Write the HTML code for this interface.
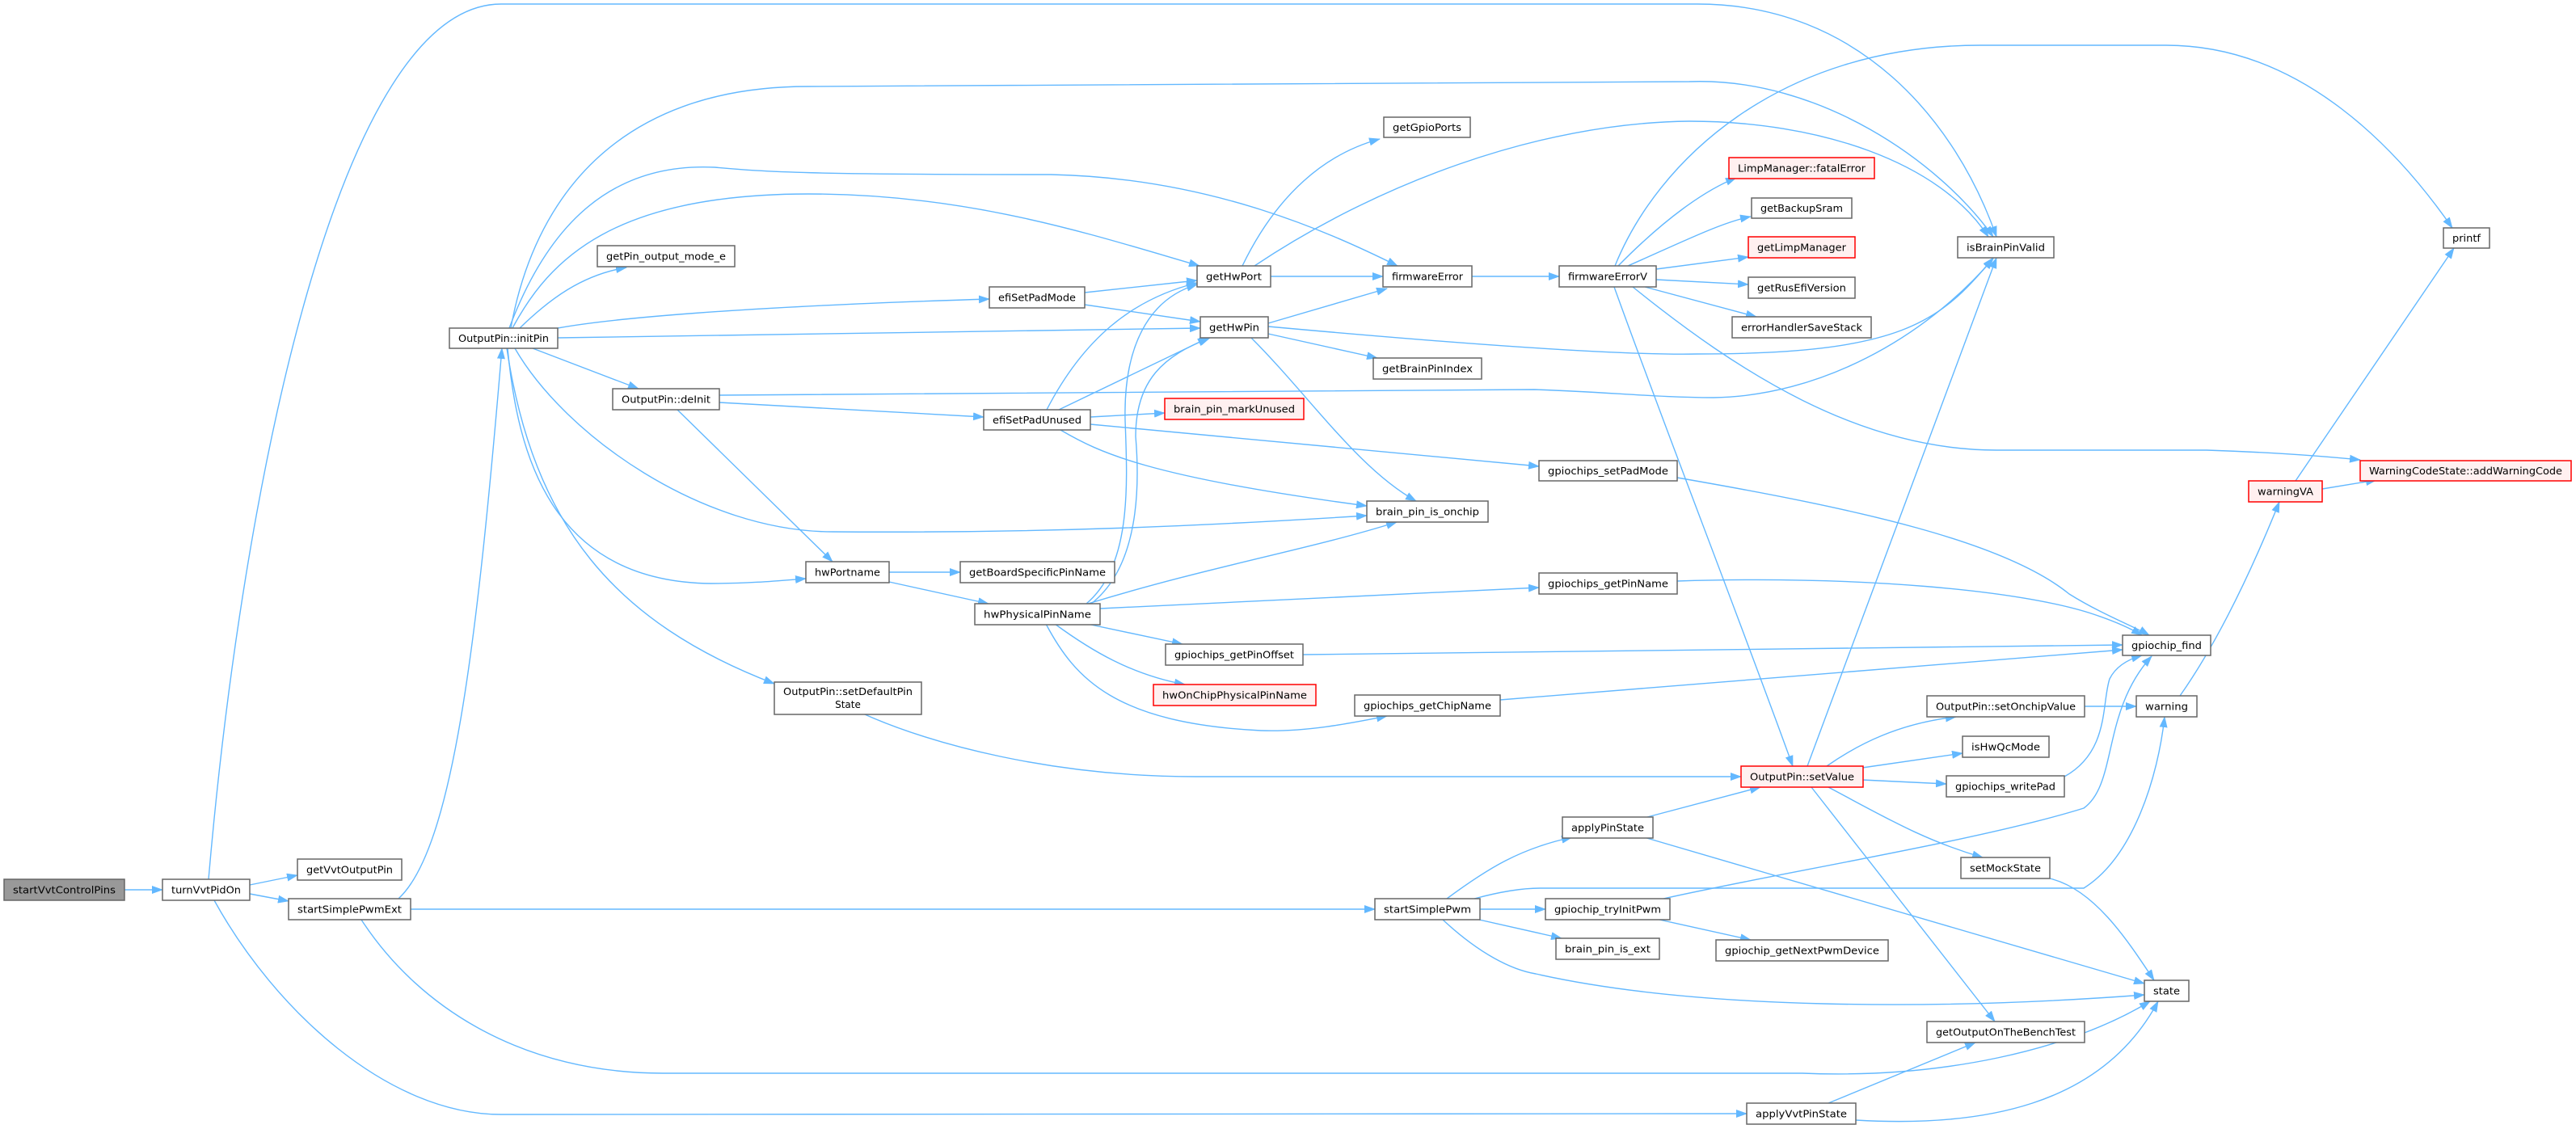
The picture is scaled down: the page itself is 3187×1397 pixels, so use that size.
<!DOCTYPE html>
<html><head><meta charset="utf-8"><style>
html,body{margin:0;padding:0;background:#fff;}
svg{display:block;}
text{font-family:"DejaVu Sans","Liberation Sans",sans-serif;font-size:12px;fill:#000;text-anchor:middle;}
.n rect{fill:#fff;stroke:#666;stroke-width:1.5;}
.r rect{fill:#fff0f0;stroke:#f00;stroke-width:1.5;}
.g rect{fill:#999;stroke:#666;stroke-width:1.5;}
.e path{fill:none;stroke:#63b8ff;stroke-width:1.4;}
</style></head><body>
<svg width="3187" height="1397" viewBox="0 0 3187 1397" xmlns="http://www.w3.org/2000/svg">
<defs><marker id="a" markerUnits="userSpaceOnUse" markerWidth="14" markerHeight="10" refX="13" refY="5" orient="auto"><path d="M0,0 L14,5 L0,10 z" fill="#63b8ff"/></marker></defs>
<g class="e" marker-end="url(#a)">
<path marker-end="url(#a)" d="M154,1101 L201,1101"/>
<path marker-end="url(#a)" d="M309,1095 L368,1083"/>
<path marker-end="url(#a)" d="M309,1106 L357,1115"/>
<path marker-end="url(#a)" d="M258,1088 C300,600 420,5 620,5 L2100,5 C2300,5 2420,150 2470,293"/>
<path marker-end="url(#a)" d="M265,1114 C340,1250 480,1379 620,1379 L2161,1378"/>
<path marker-end="url(#a)" d="M493,1112 C560,1050 590,800 621,431"/>
<path marker-end="url(#a)" d="M508,1125 L1701,1125"/>
<path marker-end="url(#a)" d="M447,1138 C520,1250 650,1328 820,1328 L2230,1328 C2400,1335 2560,1300 2660,1239"/>
<path marker-end="url(#a)" d="M632,406 C660,250 760,107 1000,107 L2090,101 C2250,95 2400,200 2466,293"/>
<path marker-end="url(#a)" d="M630,406 C670,300 740,200 884,207 C950,213 1000,216 1300,216 C1500,220 1650,290 1729,329"/>
<path marker-end="url(#a)" d="M634,406 C680,320 760,240 1000,240 C1200,240 1350,290 1484,329"/>
<path marker-end="url(#a)" d="M643,406 C680,370 720,340 775,331"/>
<path marker-end="url(#a)" d="M690,406 C750,395 900,380 1224,370"/>
<path marker-end="url(#a)" d="M690,418 L1485,406"/>
<path marker-end="url(#a)" d="M659,431 L790,481"/>
<path marker-end="url(#a)" d="M628,431 C640,560 680,720 880,722 C930,722 970,718 997,716"/>
<path marker-end="url(#a)" d="M637,431 C700,540 870,658 1030,658 C1300,660 1500,650 1691,638"/>
<path marker-end="url(#a)" d="M627,431 C660,650 760,770 958,846"/>
<path marker-end="url(#a)" d="M890,489 L1898,482 C1990,485 2050,492 2120,492 C2250,490 2380,420 2466,320"/>
<path marker-end="url(#a)" d="M890,498 L1217,516"/>
<path marker-end="url(#a)" d="M838,507 L1030,695"/>
<path marker-end="url(#a)" d="M1342,362 L1481,347"/>
<path marker-end="url(#a)" d="M1342,377 L1485,398"/>
<path marker-end="url(#a)" d="M1295,507 C1340,420 1400,370 1481,350"/>
<path marker-end="url(#a)" d="M1310,507 L1495,418"/>
<path marker-end="url(#a)" d="M1349,516 L1441,511"/>
<path marker-end="url(#a)" d="M1349,525 L1904,577"/>
<path marker-end="url(#a)" d="M1312,532 C1360,560 1420,590 1691,626"/>
<path marker-end="url(#a)" d="M1344,747 C1400,700 1395,600 1392,520 C1390,430 1420,370 1481,352"/>
<path marker-end="url(#a)" d="M1350,747 C1410,700 1410,600 1405,540 C1405,470 1440,440 1497,418"/>
<path marker-end="url(#a)" d="M1346,747 C1500,700 1620,680 1728,646"/>
<path marker-end="url(#a)" d="M1361,753 L1904,727"/>
<path marker-end="url(#a)" d="M1345,772 L1463,797"/>
<path marker-end="url(#a)" d="M1305,772 C1350,805 1400,835 1466,847"/>
<path marker-end="url(#a)" d="M1294,772 C1330,840 1380,895 1560,904 C1620,906 1680,893 1716,886"/>
<path marker-end="url(#a)" d="M1100,708 L1188,708"/>
<path marker-end="url(#a)" d="M1100,720 L1223,747"/>
<path marker-end="url(#a)" d="M1537,329 C1580,240 1640,190 1707,172"/>
<path marker-end="url(#a)" d="M1552,329 C1700,230 1900,152 2090,150 C2250,150 2400,200 2460,293"/>
<path marker-end="url(#a)" d="M1572,342 L1711,342"/>
<path marker-end="url(#a)" d="M1569,400 L1716,357"/>
<path marker-end="url(#a)" d="M1569,404 C1800,425 2000,440 2100,438 C2350,438 2400,400 2466,319"/>
<path marker-end="url(#a)" d="M1569,413 L1704,443"/>
<path marker-end="url(#a)" d="M1548,418 C1620,490 1680,580 1752,620"/>
<path marker-end="url(#a)" d="M1821,342 L1929,342"/>
<path marker-end="url(#a)" d="M1998,329 C2050,200 2200,56 2450,56 L2680,56 C2850,56 2970,190 3034,282"/>
<path marker-end="url(#a)" d="M2002,329 C2060,270 2110,235 2148,220"/>
<path marker-end="url(#a)" d="M2014,329 C2080,300 2130,275 2166,268"/>
<path marker-end="url(#a)" d="M2049,333 L2163,318"/>
<path marker-end="url(#a)" d="M2049,346 L2163,352"/>
<path marker-end="url(#a)" d="M2035,355 L2173,392"/>
<path marker-end="url(#a)" d="M2020,355 C2150,460 2300,557 2470,557 L2730,557 C2820,560 2880,565 2920,569"/>
<path marker-end="url(#a)" d="M1997,355 C2060,530 2150,760 2218,948"/>
<path marker-end="url(#a)" d="M2236,948 L2470,319"/>
<path marker-end="url(#a)" d="M2260,948 C2300,920 2350,895 2420,887"/>
<path marker-end="url(#a)" d="M2304,950 L2428,932"/>
<path marker-end="url(#a)" d="M2304,965 L2408,970"/>
<path marker-end="url(#a)" d="M2262,974 C2330,1010 2380,1040 2453,1061"/>
<path marker-end="url(#a)" d="M2241,974 L2468,1264"/>
<path marker-end="url(#a)" d="M2579,874 L2643,874"/>
<path marker-end="url(#a)" d="M2554,961 C2610,930 2600,870 2610,840 C2615,830 2625,818 2650,811"/>
<path marker-end="url(#a)" d="M2075,591 C2300,630 2480,670 2560,735 C2600,760 2640,775 2659,786"/>
<path marker-end="url(#a)" d="M2075,719 C2300,712 2500,730 2590,760 C2620,770 2640,780 2650,786"/>
<path marker-end="url(#a)" d="M1612,810 L2626,798"/>
<path marker-end="url(#a)" d="M1856,866 L2626,804"/>
<path marker-end="url(#a)" d="M2058,1112 C2200,1080 2450,1040 2578,1000 C2620,970 2600,880 2662,812"/>
<path marker-end="url(#a)" d="M1824,1112 C1850,1105 1880,1099 1905,1099 L2578,1099 C2640,1060 2670,960 2678,887"/>
<path marker-end="url(#a)" d="M1790,1112 C1840,1075 1880,1050 1945,1036"/>
<path marker-end="url(#a)" d="M1830,1125 L1912,1125"/>
<path marker-end="url(#a)" d="M1830,1138 L1932,1161"/>
<path marker-end="url(#a)" d="M1785,1138 C1830,1180 1870,1200 1900,1205 C2100,1250 2400,1250 2653,1231"/>
<path marker-end="url(#a)" d="M2053,1138 L2166,1163"/>
<path marker-end="url(#a)" d="M2038,1011 L2178,974"/>
<path marker-end="url(#a)" d="M2034,1036 L2653,1217"/>
<path marker-end="url(#a)" d="M2536,1087 C2590,1100 2630,1160 2665,1213"/>
<path marker-end="url(#a)" d="M2262,1365 L2444,1290"/>
<path marker-end="url(#a)" d="M2296,1386 C2450,1395 2600,1370 2670,1239"/>
<path marker-end="url(#a)" d="M1070,884 C1150,920 1300,961 1480,961 L2154,961"/>
<path marker-end="url(#a)" d="M2697,861 C2740,800 2780,720 2820,621"/>
<path marker-end="url(#a)" d="M2840,595 L3036,307"/>
<path marker-end="url(#a)" d="M2873,605 L2940,594"/>
</g>

<g class="g"><rect x="5" y="1088" width="149" height="26"/><text x="79.5" y="1105.5" textLength="127" lengthAdjust="spacingAndGlyphs">startVvtControlPins</text></g>
<g class="n"><rect x="201" y="1088" width="108" height="26"/><text x="255" y="1105.5" textLength="86" lengthAdjust="spacingAndGlyphs">turnVvtPidOn</text></g>
<g class="n"><rect x="368" y="1063" width="129" height="26"/><text x="432.5" y="1080.5" textLength="107" lengthAdjust="spacingAndGlyphs">getVvtOutputPin</text></g>
<g class="n"><rect x="357" y="1112" width="151" height="26"/><text x="432.5" y="1129.5" textLength="129" lengthAdjust="spacingAndGlyphs">startSimplePwmExt</text></g>
<g class="n"><rect x="556" y="406" width="134" height="25"/><text x="623" y="423" textLength="112" lengthAdjust="spacingAndGlyphs">OutputPin::initPin</text></g>
<g class="n"><rect x="739" y="304" width="170" height="26"/><text x="824" y="321.5" textLength="148" lengthAdjust="spacingAndGlyphs">getPin_output_mode_e</text></g>
<g class="n"><rect x="758" y="481" width="132" height="26"/><text x="824" y="498.5" textLength="110" lengthAdjust="spacingAndGlyphs">OutputPin::deInit</text></g>
<g class="n"><rect x="997" y="695" width="103" height="26"/><text x="1048.5" y="712.5" textLength="81" lengthAdjust="spacingAndGlyphs">hwPortname</text></g>
<g class="n"><rect x="958" y="844" width="182" height="40"/><text x="1049" y="860" textLength="160" lengthAdjust="spacingAndGlyphs">OutputPin::setDefaultPin</text><text x="1049" y="876">State</text></g>
<g class="n"><rect x="1712" y="145" width="107" height="25"/><text x="1765.5" y="162" textLength="85" lengthAdjust="spacingAndGlyphs">getGpioPorts</text></g>
<g class="n"><rect x="1481" y="329" width="91" height="26"/><text x="1526.5" y="346.5" textLength="69" lengthAdjust="spacingAndGlyphs">getHwPort</text></g>
<g class="n"><rect x="1711" y="329" width="110" height="26"/><text x="1766" y="346.5" textLength="88" lengthAdjust="spacingAndGlyphs">firmwareError</text></g>
<g class="n"><rect x="1929" y="329" width="120" height="26"/><text x="1989" y="346.5" textLength="98" lengthAdjust="spacingAndGlyphs">firmwareErrorV</text></g>
<g class="n"><rect x="1224" y="355" width="118" height="26"/><text x="1283" y="372.5" textLength="96" lengthAdjust="spacingAndGlyphs">efiSetPadMode</text></g>
<g class="n"><rect x="1485" y="392" width="84" height="26"/><text x="1527" y="409.5" textLength="62" lengthAdjust="spacingAndGlyphs">getHwPin</text></g>
<g class="n"><rect x="1699" y="443" width="134" height="26"/><text x="1766" y="460.5" textLength="112" lengthAdjust="spacingAndGlyphs">getBrainPinIndex</text></g>
<g class="r"><rect x="1441" y="493" width="172" height="26"/><text x="1527" y="510.5" textLength="150" lengthAdjust="spacingAndGlyphs">brain_pin_markUnused</text></g>
<g class="n"><rect x="1217" y="507" width="132" height="25"/><text x="1283" y="524" textLength="110" lengthAdjust="spacingAndGlyphs">efiSetPadUnused</text></g>
<g class="n"><rect x="1904" y="570" width="171" height="25"/><text x="1989.5" y="587" textLength="149" lengthAdjust="spacingAndGlyphs">gpiochips_setPadMode</text></g>
<g class="n"><rect x="1691" y="620" width="150" height="26"/><text x="1766" y="637.5" textLength="128" lengthAdjust="spacingAndGlyphs">brain_pin_is_onchip</text></g>
<g class="n"><rect x="1188" y="695" width="191" height="26"/><text x="1283.5" y="712.5" textLength="169" lengthAdjust="spacingAndGlyphs">getBoardSpecificPinName</text></g>
<g class="n"><rect x="1904" y="709" width="171" height="26"/><text x="1989.5" y="726.5" textLength="149" lengthAdjust="spacingAndGlyphs">gpiochips_getPinName</text></g>
<g class="n"><rect x="1206" y="747" width="155" height="26"/><text x="1283.5" y="764.5" textLength="133" lengthAdjust="spacingAndGlyphs">hwPhysicalPinName</text></g>
<g class="n"><rect x="1442" y="797" width="170" height="26"/><text x="1527" y="814.5" textLength="148" lengthAdjust="spacingAndGlyphs">gpiochips_getPinOffset</text></g>
<g class="r"><rect x="1427" y="847" width="201" height="26"/><text x="1527.5" y="864.5" textLength="179" lengthAdjust="spacingAndGlyphs">hwOnChipPhysicalPinName</text></g>
<g class="n"><rect x="1676" y="860" width="180" height="26"/><text x="1766" y="877.5" textLength="158" lengthAdjust="spacingAndGlyphs">gpiochips_getChipName</text></g>
<g class="n"><rect x="1933" y="1011" width="112" height="26"/><text x="1989" y="1028.5" textLength="90" lengthAdjust="spacingAndGlyphs">applyPinState</text></g>
<g class="n"><rect x="1701" y="1112" width="130" height="26"/><text x="1766" y="1129.5" textLength="108" lengthAdjust="spacingAndGlyphs">startSimplePwm</text></g>
<g class="n"><rect x="1912" y="1112" width="154" height="26"/><text x="1989" y="1129.5" textLength="132" lengthAdjust="spacingAndGlyphs">gpiochip_tryInitPwm</text></g>
<g class="n"><rect x="1925" y="1161" width="128" height="26"/><text x="1989" y="1178.5" textLength="106" lengthAdjust="spacingAndGlyphs">brain_pin_is_ext</text></g>
<g class="r"><rect x="2139" y="195" width="180" height="26"/><text x="2229" y="212.5" textLength="158" lengthAdjust="spacingAndGlyphs">LimpManager::fatalError</text></g>
<g class="n"><rect x="2167" y="245" width="124" height="25"/><text x="2229" y="262" textLength="102" lengthAdjust="spacingAndGlyphs">getBackupSram</text></g>
<g class="r"><rect x="2163" y="293" width="132" height="26"/><text x="2229" y="310.5" textLength="110" lengthAdjust="spacingAndGlyphs">getLimpManager</text></g>
<g class="n"><rect x="2163" y="343" width="132" height="26"/><text x="2229" y="360.5" textLength="110" lengthAdjust="spacingAndGlyphs">getRusEfiVersion</text></g>
<g class="n"><rect x="2143" y="392" width="172" height="26"/><text x="2229" y="409.5" textLength="150" lengthAdjust="spacingAndGlyphs">errorHandlerSaveStack</text></g>
<g class="n"><rect x="2422" y="293" width="119" height="26"/><text x="2481.5" y="310.5" textLength="97" lengthAdjust="spacingAndGlyphs">isBrainPinValid</text></g>
<g class="n"><rect x="3023" y="282" width="57" height="25"/><text x="3051.5" y="299" textLength="35" lengthAdjust="spacingAndGlyphs">printf</text></g>
<g class="r"><rect x="2920" y="570" width="261" height="25"/><text x="3050.5" y="587" textLength="239" lengthAdjust="spacingAndGlyphs">WarningCodeState::addWarningCode</text></g>
<g class="r"><rect x="2782" y="595" width="91" height="26"/><text x="2827.5" y="612.5" textLength="69" lengthAdjust="spacingAndGlyphs">warningVA</text></g>
<g class="n"><rect x="2626" y="786" width="109" height="25"/><text x="2680.5" y="803" textLength="87" lengthAdjust="spacingAndGlyphs">gpiochip_find</text></g>
<g class="n"><rect x="2384" y="861" width="195" height="26"/><text x="2481.5" y="878.5" textLength="173" lengthAdjust="spacingAndGlyphs">OutputPin::setOnchipValue</text></g>
<g class="n"><rect x="2643" y="861" width="75" height="26"/><text x="2680.5" y="878.5" textLength="53" lengthAdjust="spacingAndGlyphs">warning</text></g>
<g class="n"><rect x="2428" y="911" width="107" height="26"/><text x="2481.5" y="928.5" textLength="85" lengthAdjust="spacingAndGlyphs">isHwQcMode</text></g>
<g class="r"><rect x="2154" y="948" width="151" height="26"/><text x="2229.5" y="965.5" textLength="129" lengthAdjust="spacingAndGlyphs">OutputPin::setValue</text></g>
<g class="n"><rect x="2408" y="960" width="146" height="26"/><text x="2481" y="977.5" textLength="124" lengthAdjust="spacingAndGlyphs">gpiochips_writePad</text></g>
<g class="n"><rect x="2426" y="1061" width="110" height="26"/><text x="2481" y="1078.5" textLength="88" lengthAdjust="spacingAndGlyphs">setMockState</text></g>
<g class="n"><rect x="2123" y="1163" width="213" height="26"/><text x="2229.5" y="1180.5" textLength="191" lengthAdjust="spacingAndGlyphs">gpiochip_getNextPwmDevice</text></g>
<g class="n"><rect x="2653" y="1213" width="55" height="26"/><text x="2680.5" y="1230.5" textLength="33" lengthAdjust="spacingAndGlyphs">state</text></g>
<g class="n"><rect x="2384" y="1264" width="195" height="26"/><text x="2481.5" y="1281.5" textLength="173" lengthAdjust="spacingAndGlyphs">getOutputOnTheBenchTest</text></g>
<g class="n"><rect x="2161" y="1365" width="135" height="26"/><text x="2228.5" y="1382.5" textLength="113" lengthAdjust="spacingAndGlyphs">applyVvtPinState</text></g>
</svg>
</body></html>
